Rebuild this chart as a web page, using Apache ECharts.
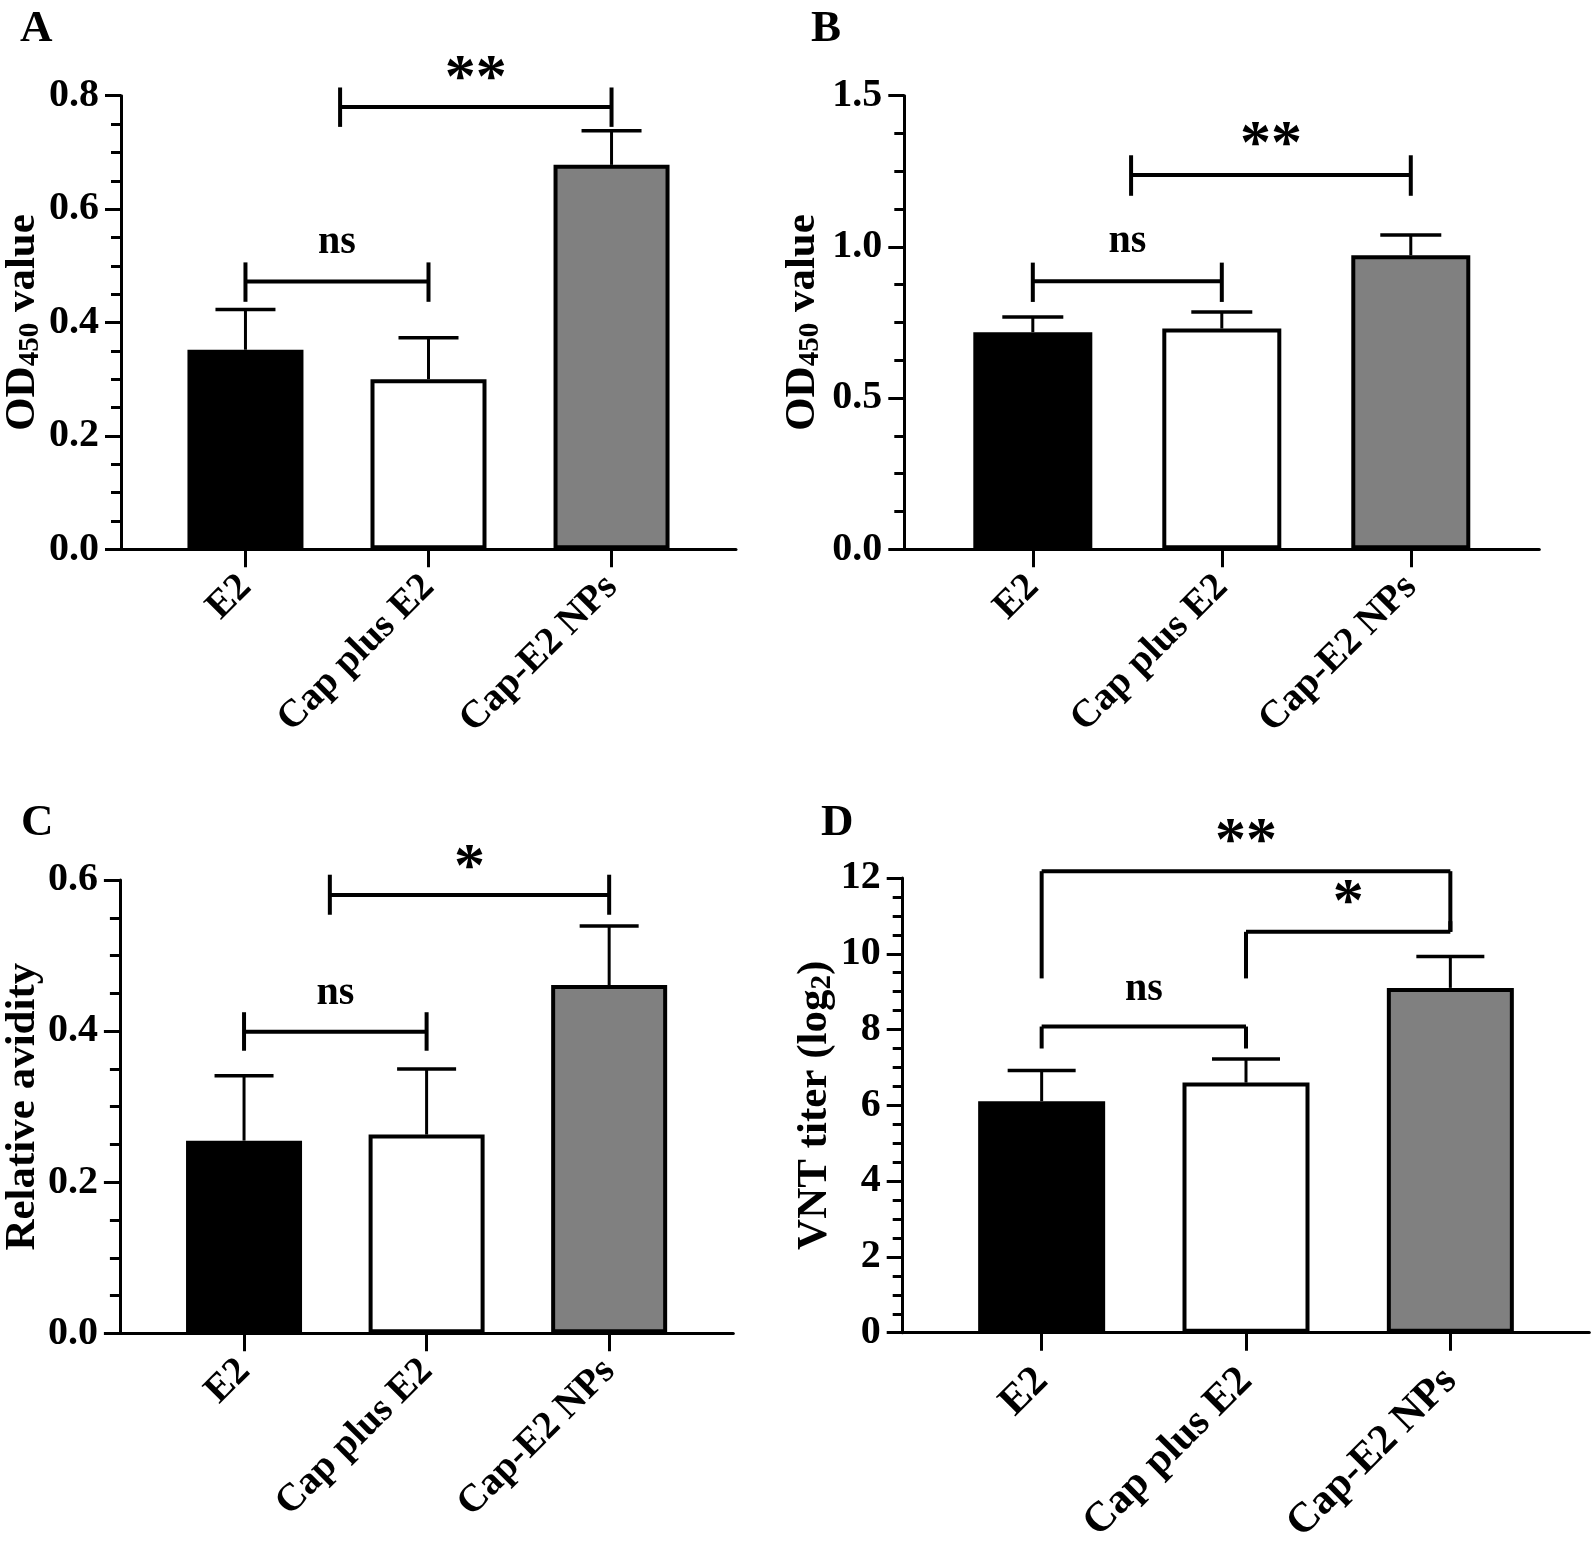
<!DOCTYPE html>
<html><head><meta charset="utf-8">
<script src="https://cdn.jsdelivr.net/npm/echarts@6/dist/echarts.min.js"></script>
<style>html,body{margin:0;padding:0;background:#fff}#c{width:1592px;height:1551px}</style>
</head><body><div id="c"></div><script>
// ---------- data ----------
const categories = ['E2', 'Cap plus E2', 'Cap-E2 NPs'];
const categoryPos = [1, 2, 3];
const barColors = ['#000000', '#ffffff', '#808080'];

const meanA = [0.352, 0.300, 0.678];
const sdA   = [0.071, 0.073, 0.060];
const meanB = [0.718, 0.730, 0.972];
const sdB   = [0.050, 0.055, 0.067];
const meanC = [0.255, 0.263, 0.461];
const sdC   = [0.086, 0.087, 0.078];
const meanD = [6.11, 6.60, 9.10];
const sdD   = [0.81, 0.62, 0.83];

const yAxisA = [0, 0.8, 0.2];
const yAxisB = [0, 1.5, 0.5];
const yAxisC = [0, 0.6, 0.2];
const yAxisD = [0, 12, 2];

// brackets: [x1, x2, yLine, leftLegFrom, leftLegTo, rightLegFrom, rightLegTo]
const bracketsA = [[1, 2, 0.4725, 0.4365, 0.506, 0.4365, 0.506], [1.517, 3, 0.780, 0.745, 0.8145, 0.745, 0.8145]];
const bracketsB = [[1, 2, 0.886, 0.818, 0.948, 0.818, 0.948], [1.52, 3, 1.238, 1.169, 1.303, 1.169, 1.303]];
const bracketsC = [[1, 2, 0.399, 0.374, 0.425, 0.374, 0.425], [1.47, 3, 0.580, 0.554, 0.607, 0.554, 0.607]];
const bracketsD = [[1, 2, 8.08, 7.5, 8.08, 7.5, 8.08], [1, 3, 12.18, 9.35, 12.18, 10.58, 12.18], [2, 3, 10.58, 9.35, 10.58, 10.58, 10.86]];

// significance labels: [x, y(visual centre), text]
const marksA = [[1.5, 0.533, 'ns'], [2.258, 0.844, '**']];
const marksB = [[1.5, 1.003, 'ns'], [2.26, 1.362, '**']];
const marksC = [[1.5, 0.444, 'ns'], [2.235, 0.627, '*']];
const marksD = [[1.5, 8.96, 'ns'], [2, 13.16, '**'], [2.5, 11.55, '*']];

const panelLetters = ['A', 'B', 'C', 'D'];
const yTitles = ['{t|OD}{s|450}{t| value}', '{t|OD}{s|450}{t| value}', '{t|Relative avidity}', '{t|VNT titer (log}{s|2}{t|)}'];

// ---------- layout / style ----------
const F = '"Liberation Serif", "Times New Roman", serif';
const panels = [
  {mean: meanA, sd: sdA, y: yAxisA, br: bracketsA, mk: marksA, dec: 1, grid: {left: 121, top: 95.7, width: 615, height: 453.6}, bw: 116, cap: 30, gap: 70, xf: 39, xm: 32},
  {mean: meanB, sd: sdB, y: yAxisB, br: bracketsB, mk: marksB, dec: 1, grid: {left: 904.3, top: 95.7, width: 635, height: 453.6}, bw: 119, cap: 30.5, gap: 79, xf: 39, xm: 32},
  {mean: meanC, sd: sdC, y: yAxisC, br: bracketsC, mk: marksC, dec: 1, grid: {left: 117, top: 880, width: 616.3, height: 453.3}, bw: 116, cap: 29.5, gap: 69, xf: 39, xm: 32},
  {mean: meanD, sd: sdD, y: yAxisD, br: bracketsD, mk: marksD, dec: 0, grid: {left: 902.7, top: 878, width: 686.6, height: 454.7}, bw: 127, cap: 34, gap: 64, xf: 42, xm: 42}
];
const letterPos = [[15, 2], [806, 2], [16, 796], [816, 796]];

const grids = [], xAxes = [], yAxes = [], series = [], titles = [];
panels.forEach((p, i) => {
  grids.push(Object.assign({containLabel: false}, p.grid));
  titles.push({text: panelLetters[i], left: letterPos[i][0], top: letterPos[i][1],
    textStyle: {fontSize: 45, fontWeight: 'bold', fontFamily: F, color: '#000'}});
  xAxes.push({
    type: 'value', gridIndex: i, min: 0.32, max: 3.68,
    axisLine: {show: true, onZero: false, lineStyle: {color: '#000', width: 3}},
    axisTick: {show: true, customValues: categoryPos, length: 18, lineStyle: {color: '#000', width: 3}},
    axisLabel: {customValues: categoryPos, rotate: 45, margin: p.xm,
      formatter: v => categories[Math.round(v) - 1] || '',
      fontSize: p.xf, fontWeight: 'bold', fontFamily: F, color: '#000'},
    splitLine: {show: false}
  });
  yAxes.push({
    type: 'value', gridIndex: i, min: p.y[0], max: p.y[1], interval: p.y[2],
    axisLine: {show: true, lineStyle: {color: '#000', width: 3}},
    axisTick: {show: true, length: 16, lineStyle: {color: '#000', width: 3}},
    minorTick: {show: true, splitNumber: 4, length: 10, lineStyle: {color: '#000', width: 3}},
    splitLine: {show: false}, minorSplitLine: {show: false},
    axisLabel: {margin: 22, fontSize: 40, fontWeight: 'bold', fontFamily: F, color: '#000',
      formatter: v => v.toFixed(p.dec)},
    name: yTitles[i], nameLocation: 'middle', nameRotate: 90, nameGap: p.gap,
    nameTextStyle: {color: '#000', rich: {
      t: {fontSize: 43, fontWeight: 'bold', fontFamily: F, color: '#000', lineHeight: 44},
      s: {fontSize: 29, fontWeight: 'bold', fontFamily: F, color: '#000', lineHeight: 30, verticalAlign: 'bottom'}
    }}
  });
  // bars
  series.push({
    type: 'bar', xAxisIndex: i, yAxisIndex: i, barWidth: p.bw, z: 3,
    data: p.mean.map((v, k) => ({value: [categoryPos[k], v],
      itemStyle: {color: barColors[k], borderColor: '#000', borderWidth: 4}}))
  });
  // error bars
  series.push({
    type: 'custom', xAxisIndex: i, yAxisIndex: i, z: 2,
    data: p.mean.map((v, k) => [categoryPos[k], v, p.sd[k]]),
    renderItem: (params, api) => {
      const x = api.value(0), m = api.value(1), s = api.value(2);
      const a = api.coord([x, m]), b = api.coord([x, m + s]);
      return {type: 'group', children: [
        {type: 'line', shape: {x1: a[0], y1: a[1], x2: b[0], y2: b[1]}, style: {stroke: '#000', lineWidth: 3}},
        {type: 'line', shape: {x1: b[0] - p.cap, y1: b[1], x2: b[0] + p.cap, y2: b[1]}, style: {stroke: '#000', lineWidth: 3.5}}
      ]};
    }
  });
  // significance brackets
  series.push({
    type: 'custom', xAxisIndex: i, yAxisIndex: i, z: 4, clip: false,
    data: p.br,
    renderItem: (params, api) => {
      const d = p.br[params.dataIndex];
      const h1 = api.coord([d[0], d[2]]), h2 = api.coord([d[1], d[2]]);
      const l1 = api.coord([d[0], d[3]]), l2 = api.coord([d[0], d[4]]);
      const r1 = api.coord([d[1], d[5]]), r2 = api.coord([d[1], d[6]]);
      const st = {stroke: '#000', lineWidth: 4, lineCap: 'butt'};
      return {type: 'group', children: [
        {type: 'line', shape: {x1: h1[0], y1: h1[1], x2: h2[0], y2: h2[1]}, style: st},
        {type: 'line', shape: {x1: l1[0], y1: l1[1], x2: l2[0], y2: l2[1]}, style: st},
        {type: 'line', shape: {x1: r1[0], y1: r1[1], x2: r2[0], y2: r2[1]}, style: st}
      ]};
    }
  });
  // significance labels
  series.push({
    type: 'custom', xAxisIndex: i, yAxisIndex: i, z: 5, clip: false,
    data: p.mk.map(m => [m[0], m[1]]),
    renderItem: (params, api) => {
      const m = p.mk[params.dataIndex];
      const c = api.coord([m[0], m[1]]);
      const star = m[2].indexOf('*') >= 0;
      return {type: 'text', x: c[0], y: c[1] + (star ? 9 : -4),
        style: {text: m[2], x: 0, y: 0, align: 'center', verticalAlign: 'middle',
          fontSize: star ? 62 : 40, fontWeight: 'bold', fontFamily: F, fill: '#000'}};
    }
  });
});

const chart = echarts.init(document.getElementById('c'), null, {renderer: 'canvas'});
chart.setOption({animation: false, backgroundColor: '#fff', title: titles, grid: grids,
  xAxis: xAxes, yAxis: yAxes, series: series});
</script></body></html>
